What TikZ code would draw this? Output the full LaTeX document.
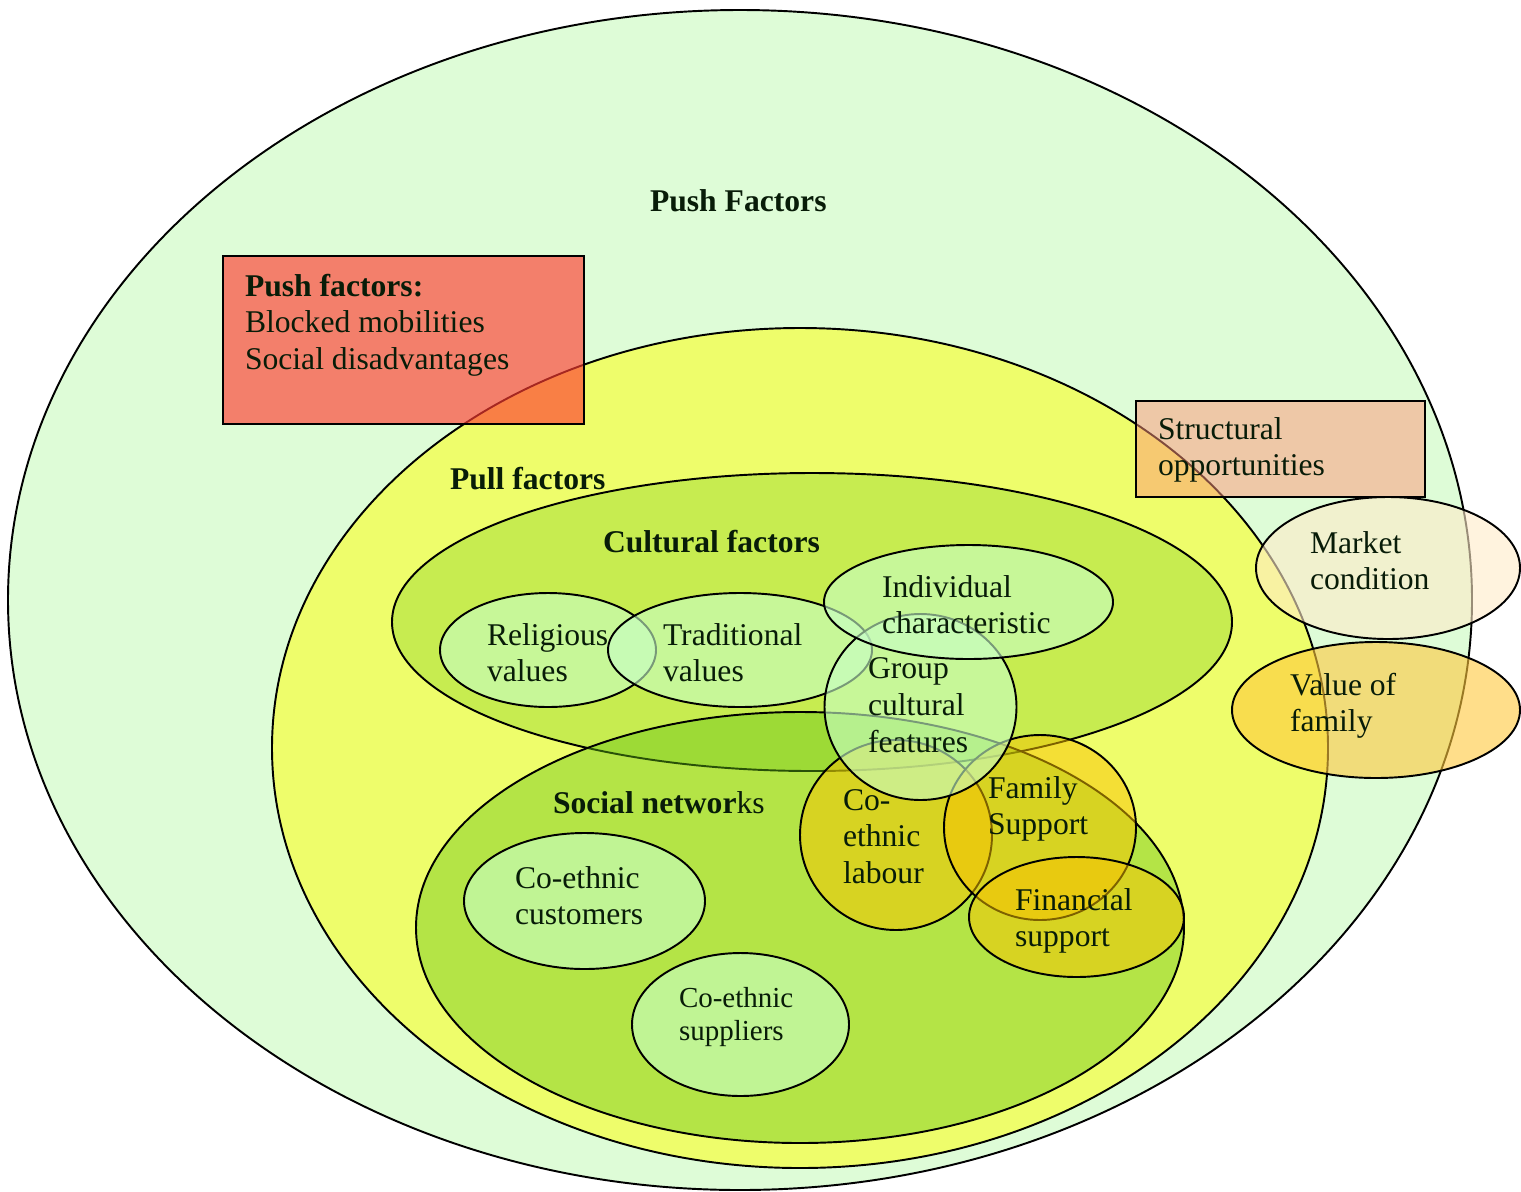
\documentclass[tikz,border=0pt]{standalone}
\usepackage{fontspec}
\setmainfont{Liberation Serif}
\usetikzlibrary{shapes.geometric}

\definecolor{outerfill}{RGB}{222,252,215}
\definecolor{pullfill}{RGB}{255,255,0}
\definecolor{pushfill}{RGB}{255,60,50}
\definecolor{structfill}{RGB}{255,150,120}
\definecolor{marketfill}{RGB}{255,235,200}
\definecolor{valuefill}{RGB}{255,200,60}
\definecolor{culturefill}{RGB}{110,200,20}
\definecolor{netfill}{RGB}{100,195,20}
\definecolor{itemfill}{RGB}{200,255,200}
\definecolor{goldfill}{RGB}{250,195,0}
\definecolor{ink}{RGB}{8,28,8}

% strut that fixes the height of the first text line
\newcommand\firstline{\rule{0pt}{14pt}}
\newcommand\firstlinesmall{\rule{0pt}{12.8pt}}

\tikzset{
  zone/.style={draw=black, line width=1.1pt, inner sep=0pt, outer sep=0pt},
  oval/.style 2 args={zone, ellipse, minimum width=#1*0.02cm, minimum height=#2*0.02cm},
  box/.style 2 args={zone, rectangle, minimum width=#1*0.02cm, minimum height=#2*0.02cm},
  txt/.style={anchor=north west, inner sep=0pt, outer sep=0pt, align=left,
              text=ink, font=\fontsize{18}{20.8}\selectfont},
  txtsmall/.style={txt, font=\fontsize{16.5}{18.8}\selectfont},
}

\begin{document}
\begin{tikzpicture}[x=0.02cm, y=-0.02cm]
  \fill[white] (0,0) rectangle (1521,1191);
  \useasboundingbox (0,0) rectangle (1521,1191);

  % outer region and the large groups
  \node[oval={1464}{1180}, fill=outerfill] (push) at (740,600) {};
  \node[oval={1056}{840}, fill=pullfill, fill opacity=0.5] (pull) at (800,748) {};
  \node[box={361}{168}, fill=pushfill, fill opacity=0.65] (pushbox) at (403.5,340) {};
  \node[box={289}{96}, fill=structfill, fill opacity=0.5] (struct) at (1280.5,449) {};
  \node[oval={264}{142}, fill=marketfill, fill opacity=0.6] (market) at (1388,568) {};
  \node[oval={288}{136}, fill=valuefill, fill opacity=0.6] (value) at (1376,710) {};

  \node[oval={840}{298}, fill=culturefill, fill opacity=0.3] (culture) at (812,622) {};
  \node[oval={768}{431}, fill=netfill, fill opacity=0.42] (networks) at (800,927.5) {};

  % cultural items
  \node[oval={216}{114}, fill=itemfill, fill opacity=0.6] (religious) at (548,650) {};
  \node[oval={264}{114}, fill=itemfill, fill opacity=0.6] (traditional) at (740,650) {};

  % network items
  \node[oval={241}{136}, fill=itemfill, fill opacity=0.6] (customers) at (584.5,901) {};
  \node[oval={217}{143}, fill=itemfill, fill opacity=0.6] (suppliers) at (740.5,1024.5) {};
  \node[oval={192}{190}, fill=goldfill, fill opacity=0.5] (labour) at (896,835) {};
  \node[oval={192}{185}, fill=goldfill, fill opacity=0.5] (family) at (1040,827.5) {};
  \node[oval={215}{120}, fill=goldfill, fill opacity=0.5] (financial) at (1076.5,917) {};

  \node[oval={192}{186}, fill=itemfill, fill opacity=0.6] (group) at (920.5,707) {};
  \node[oval={289}{114}, fill=itemfill, fill opacity=0.6] (individual) at (968.5,602) {};

  % texts
  \node[txt] (tpush) at (650,186.4) {\firstline\textbf{Push Factors}};
  \node[txt] (tpushbox) at (245,271.4) {\firstline\textbf{Push factors:}\\Blocked mobilities\\Social disadvantages};
  \node[txt] (tpull) at (450,464.4) {\firstline\textbf{Pull factors}};
  \node[txt] (tculture) at (603,527.4) {\firstline\textbf{Cultural factors}};
  \node[txt] (treligious) at (487,620.4) {\firstline Religious\\values};
  \node[txt] (ttraditional) at (663,620.4) {\firstline Traditional\\values};
  \node[txt] (tindividual) at (882,572.4) {\firstline Individual\\characteristic};
  \node[txt, font=\fontsize{18}{21.3}\selectfont] (tgroup) at (868,653.4) {\firstline Group\\cultural\\features};
  \node[txt] (tnetworks) at (553,788.4) {\firstline\textbf{Social networ}ks};
  \node[txt] (tlabour) at (843,785.4) {\firstline Co-\\ethnic\\labour};
  \node[txt] (tfamily) at (988,773.4) {\firstline Family\\Support};
  \node[txt] (tfinancial) at (1015,885.4) {\firstline Financial\\support};
  \node[txt] (tcustomers) at (515,863.4) {\firstline Co-ethnic\\customers};
  \node[txtsmall] (tsuppliers) at (679,984.5) {\firstlinesmall Co-ethnic\\suppliers};
  \node[txt] (tstruct) at (1158,414.4) {\firstline Structural\\opportunities};
  \node[txt] (tmarket) at (1310,528.4) {\firstline Market\\condition};
  \node[txt] (tvalue) at (1290,670.4) {\firstline Value of\\family};
\end{tikzpicture}
\end{document}
